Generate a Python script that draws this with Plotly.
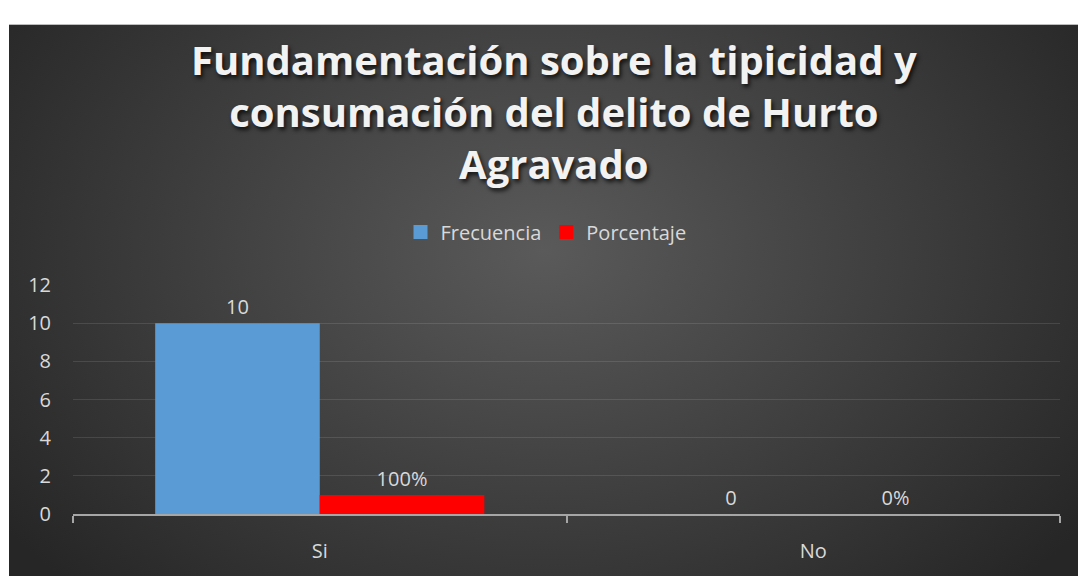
import base64
import plotly.graph_objects as go

categories = ["Si", "No"]
frecuencia = [10, 0]
porcentaje = [1.0, 0.0]
y_ticks = [0, 2, 4, 6, 8, 10, 12]

title_text = "Fundamentación sobre la tipicidad y<br>consumación del delito de Hurto<br>Agravado"

W, H = 1078, 576
ML, MT = 73, 285
MB = H - 524
MR = W - 1060
pw, ph = W - ML - MR, H - MT - MB

def py(page_y):
    return (H - MB - page_y) / ph

def px(page_x):
    return (page_x - ML) / pw

# background radial gradient (chart area), extended past the page edges
bx0, by0 = 9, 13
bw, bh = W + 40 - bx0, H + 40 - by0
cx, cy = (W - bx0) * 0.5, (H - by0) * 0.42
svg = f'''<svg xmlns="http://www.w3.org/2000/svg" width="{bw}" height="{bh}" viewBox="0 0 {bw} {bh}" preserveAspectRatio="none">
<defs><radialGradient id="g" cx="{cx}" cy="{cy}" r="{(W-bx0)*0.62}" gradientUnits="userSpaceOnUse" gradientTransform="translate({cx} {cy}) scale(1 0.75) translate({-cx} {-cy})">
<stop offset="0" stop-color="#5a5a5a"/><stop offset="1" stop-color="#262626"/></radialGradient></defs>
<rect width="{bw}" height="{bh}" fill="url(#g)"/></svg>'''
src = "data:image/svg+xml;base64," + base64.b64encode(svg.encode()).decode()

label_font = dict(color="#d9d9d9", size=20, family="Open Sans")

fig = go.Figure()
fig.add_trace(go.Bar(
    x=categories, y=frecuencia, name="Frecuencia", showlegend=False,
    marker=dict(color="#5b9bd5", line=dict(width=0)),
    text=[str(v) for v in frecuencia], textposition="outside",
    textfont=label_font, cliponaxis=False,
))
fig.add_trace(go.Bar(
    x=categories, y=porcentaje, name="Porcentaje", showlegend=False,
    marker=dict(color="#ff0000", line=dict(width=0)),
    texttemplate="%{y:.0%}", textposition="outside",
    textfont=label_font, cliponaxis=False,
))
for name, col in [("Frecuencia", "#5b9bd5"), ("Porcentaje", "#ff0000")]:
    fig.add_trace(go.Scatter(
        x=[None], y=[None], mode="markers", name=name,
        marker=dict(symbol="square", size=14, color=col, line=dict(width=0)),
    ))

fig.update_layout(
    width=W, height=H,
    margin=dict(l=ML, r=MR, t=MT, b=MB, pad=0),
    paper_bgcolor="white",
    plot_bgcolor="rgba(0,0,0,0)",
    barmode="group", bargap=0.333, bargroupgap=0,
    font=dict(family="Open Sans", color="#d9d9d9", size=20),
    legend=dict(
        orientation="h", x=px(546), xanchor="center", xref="paper",
        y=1 - 232 / H, yanchor="middle", yref="container",
        font=dict(size=20, color="#d9d9d9"),
        bgcolor="rgba(0,0,0,0)", itemwidth=30, traceorder="normal",
        tracegroupgap=0,
    ),
    showlegend=True,
    annotations=[dict(
        text=title_text, xref="paper", yref="paper",
        x=px(554), y=py(104), xanchor="center", yanchor="middle",
        showarrow=False, align="center",
        font=dict(family="Open Sans", size=40, weight="bold", color="#f2f2f2",
                  shadow="2px 3px 4px rgba(0,0,0,0.75)"),
    )],
    images=[dict(
        source=src, xref="paper", yref="paper",
        x=px(bx0), y=py(by0),
        sizex=bw / pw, sizey=bh / ph,
        xanchor="left", yanchor="top", sizing="stretch", layer="below",
    )],
)

fig.update_yaxes(
    range=[0, 12], tickvals=y_ticks, showgrid=True,
    gridcolor="rgba(255,255,255,0.11)", gridwidth=1,
    zeroline=False, showline=False, ticks="",
    ticklabelstandoff=21, tickfont=dict(size=20, color="#d9d9d9"),
)
fig.update_xaxes(
    showline=True, linecolor="#a6a6a6", linewidth=2,
    ticks="outside", tickson="boundaries", ticklen=7, tickwidth=2, tickcolor="#a6a6a6",
    ticklabelstandoff=18, tickfont=dict(size=20, color="#d9d9d9"),
    showgrid=False,
)

fig.write_html(
    "out.html",
    config={"displayModeBar": False},
    post_script="document.body.style.margin='0';document.body.style.overflow='hidden';",
)
